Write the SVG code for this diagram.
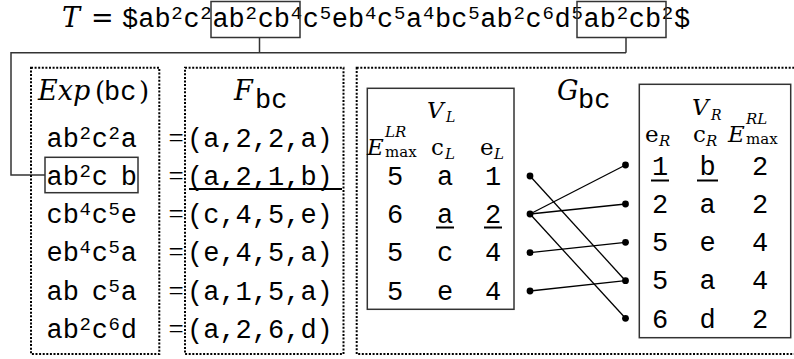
<svg xmlns="http://www.w3.org/2000/svg" width="794" height="359" viewBox="0 0 794 359">
<style>
.m{font-family:"Liberation Mono",monospace;font-size:27px;fill:#000}
.s{font-size:19px}
.mi{font-family:"DejaVu Serif",serif;font-style:italic;fill:#000}
.rm{font-family:"DejaVu Serif",serif;fill:#000}
.eq{font-family:"Liberation Serif",serif;font-size:27px;fill:#000}
.dot{fill:none;stroke:#000;stroke-width:2;stroke-dasharray:2 1.6}
.box{fill:none;stroke:#333;stroke-width:1.5}
.conn{fill:none;stroke:#333;stroke-width:1.5}
.edge{stroke:#000;stroke-width:1.3}
.ul{stroke:#000;stroke-width:2}
.v{font-family:"Liberation Mono",monospace;font-size:27px;fill:#000;text-anchor:middle}
</style>
<defs><circle id="d" r="3.4" fill="#000"/></defs>

<g id="title">
<text class="mi" x="62" y="27" font-size="27">T</text>
<text class="rm" x="91" y="27" font-size="27">=</text>
<text class="m" x="122" y="27">$ab<tspan class="s" dx="0.7" dy="-8">2</tspan><tspan dx="0.7" dy="8">c</tspan><tspan class="s" dx="0.7" dy="-8">2</tspan><tspan dx="0.7" dy="8">ab</tspan><tspan class="s" dx="0.7" dy="-8">2</tspan><tspan dx="0.7" dy="8">cb</tspan><tspan class="s" dx="0.7" dy="-8">4</tspan><tspan dx="0.7" dy="8">c</tspan><tspan class="s" dx="0.7" dy="-8">5</tspan><tspan dx="0.7" dy="8">eb</tspan><tspan class="s" dx="0.7" dy="-8">4</tspan><tspan dx="0.7" dy="8">c</tspan><tspan class="s" dx="0.7" dy="-8">5</tspan><tspan dx="0.7" dy="8">a</tspan><tspan class="s" dx="0.7" dy="-8">4</tspan><tspan dx="0.7" dy="8">bc</tspan><tspan class="s" dx="0.7" dy="-8">5</tspan><tspan dx="0.7" dy="8">ab</tspan><tspan class="s" dx="0.7" dy="-8">2</tspan><tspan dx="0.7" dy="8">c</tspan><tspan class="s" dx="0.7" dy="-8">6</tspan><tspan dx="0.7" dy="8">d</tspan><tspan class="s" dx="0.7" dy="-8">5</tspan><tspan dx="0.7" dy="8">ab</tspan><tspan class="s" dx="0.7" dy="-8">2</tspan><tspan dx="0.7" dy="8">cb</tspan><tspan class="s" dx="0.7" dy="-8">2</tspan><tspan dx="0.7" dy="8">$</tspan></text>
<rect class="box" x="211" y="1.5" width="89" height="36"/>
<rect class="box" x="577" y="1.5" width="89" height="36"/>
</g>

<g id="connectors-title">
<polyline class="conn" points="259.5,37.5 259.5,52.7"/>
<polyline class="conn" points="626,37.5 626,52.7"/>
<polyline class="conn" points="626,52.7 11,52.7 11,175 45,175"/>
</g>

<g id="exp">
<rect class="dot" x="31" y="67.7" width="128.3" height="286.3"/>
<text class="mi" x="38" y="100" font-size="27">Exp</text>
<text class="rm" x="95" y="100" font-size="26">(</text>
<text class="m" x="104" y="100">bc</text>
<text class="rm" x="139" y="100" font-size="26">)</text>
<text class="m" x="46.5" y="146.7">ab<tspan class="s" dx="0.7" dy="-8">2</tspan><tspan dx="0.7" dy="8">c</tspan><tspan class="s" dx="0.7" dy="-8">2</tspan><tspan dx="0.7" dy="8">a</tspan></text>
<rect class="box" x="45" y="157.3" width="93" height="35.4"/>
<text class="m" x="46.5" y="184.5">ab<tspan class="s" dx="0.7" dy="-8">2</tspan><tspan dx="0.7" dy="8">c</tspan><tspan dx="12.8">b</tspan></text>
<text class="m" x="46.5" y="223">cb<tspan class="s" dx="0.7" dy="-8">4</tspan><tspan dx="0.7" dy="8">c</tspan><tspan class="s" dx="0.7" dy="-8">5</tspan><tspan dx="0.7" dy="8">e</tspan></text>
<text class="m" x="46.5" y="261.3">eb<tspan class="s" dx="0.7" dy="-8">4</tspan><tspan dx="0.7" dy="8">c</tspan><tspan class="s" dx="0.7" dy="-8">5</tspan><tspan dx="0.7" dy="8">a</tspan></text>
<text class="m" x="46.5" y="299.5">ab<tspan dx="12.8">c</tspan><tspan class="s" dx="0.7" dy="-8">5</tspan><tspan dx="0.7" dy="8">a</tspan></text>
<text class="m" x="46.5" y="337.7">ab<tspan class="s" dx="0.7" dy="-8">2</tspan><tspan dx="0.7" dy="8">c</tspan><tspan class="s" dx="0.7" dy="-8">6</tspan><tspan dx="0.7" dy="8">d</tspan></text>
</g>

<g id="equals">
<text class="eq" x="176" y="146.7" text-anchor="middle">=</text>
<text class="eq" x="176" y="184.5" text-anchor="middle">=</text>
<text class="eq" x="176" y="223" text-anchor="middle">=</text>
<text class="eq" x="176" y="261.3" text-anchor="middle">=</text>
<text class="eq" x="176" y="299.5" text-anchor="middle">=</text>
<text class="eq" x="176" y="337.7" text-anchor="middle">=</text>
</g>

<g id="F">
<rect class="dot" x="185" y="67.7" width="158.5" height="286.3"/>
<text class="mi" x="234" y="100" font-size="27">F</text>
<text class="m" x="255" y="107.5" font-size="16">bc</text>
<text class="m" x="187" y="146.7">(a,2,2,a)</text>
<text class="m" x="187" y="184.5">(a,2,1,b)</text>
<line class="ul" x1="189" y1="189" x2="342" y2="189"/>
<text class="m" x="187" y="223">(c,4,5,e)</text>
<text class="m" x="187" y="261.3">(e,4,5,a)</text>
<text class="m" x="187" y="299.5">(a,1,5,a)</text>
<text class="m" x="187" y="337.7">(a,2,6,d)</text>
</g>

<g id="G">
<rect class="dot" x="356.7" y="67.7" width="440" height="286.3"/>
<text class="mi" x="557" y="100" font-size="27">G</text>
<text class="m" x="578" y="107.5" font-size="16">bc</text>
</g>

<g id="VL">
<rect class="box" x="367.3" y="88.3" width="146.7" height="221"/>
<text class="mi" x="427" y="117.5" font-size="23">V</text>
<text class="mi" x="446" y="122" font-size="14">L</text>
<text class="mi" x="367" y="155" font-size="23">E</text>
<text class="mi" x="385" y="137" font-size="15">LR</text>
<text class="rm" x="385" y="157" font-size="15">max</text>
<text class="rm" x="431" y="155" font-size="23">c</text>
<text class="mi" x="445" y="159" font-size="15">L</text>
<text class="rm" x="480" y="155" font-size="23">e</text>
<text class="mi" x="494" y="159" font-size="15">L</text>
<text class="v" x="395" y="184.5">5</text><text class="v" x="445" y="184.5">a</text><text class="v" x="493" y="184.5">1</text>
<text class="v" x="395" y="222.8">6</text><text class="v" x="445" y="222.8">a</text><text class="v" x="493" y="222.8">2</text>
<line class="ul" x1="436" y1="227.5" x2="454" y2="227.5"/>
<line class="ul" x1="484" y1="227.5" x2="502" y2="227.5"/>
<text class="v" x="395" y="261">5</text><text class="v" x="445" y="261">c</text><text class="v" x="493" y="261">4</text>
<text class="v" x="395" y="299.5">5</text><text class="v" x="445" y="299.5">e</text><text class="v" x="493" y="299.5">4</text>
</g>

<g id="VR">
<rect class="box" x="639.3" y="84.3" width="151.4" height="253.4"/>
<text class="mi" x="692" y="115" font-size="23">V</text>
<text class="mi" x="711" y="119.5" font-size="14">R</text>
<text class="rm" x="645" y="142" font-size="23">e</text>
<text class="mi" x="659" y="146" font-size="15">R</text>
<text class="rm" x="693" y="142" font-size="23">c</text>
<text class="mi" x="706" y="146" font-size="15">R</text>
<text class="mi" x="728" y="142" font-size="23">E</text>
<text class="mi" x="746" y="124" font-size="15">RL</text>
<text class="rm" x="746" y="144" font-size="15">max</text>
<text class="v" x="660" y="175">1</text><text class="v" x="707.5" y="175">b</text><text class="v" x="760" y="175">2</text>
<line class="ul" x1="651" y1="180.5" x2="669" y2="180.5"/>
<line class="ul" x1="697" y1="180.5" x2="718" y2="180.5"/>
<text class="v" x="660" y="213">2</text><text class="v" x="707.5" y="213">a</text><text class="v" x="760" y="213">2</text>
<text class="v" x="660" y="251">5</text><text class="v" x="707.5" y="251">e</text><text class="v" x="760" y="251">4</text>
<text class="v" x="660" y="289.3">5</text><text class="v" x="707.5" y="289.3">a</text><text class="v" x="760" y="289.3">4</text>
<text class="v" x="660" y="327.6">6</text><text class="v" x="707.5" y="327.6">d</text><text class="v" x="760" y="327.6">2</text>
</g>

<g id="edges">
<line class="edge" x1="530" y1="176" x2="625.5" y2="280.7"/>
<line class="edge" x1="530" y1="214" x2="625.5" y2="165"/>
<line class="edge" x1="530" y1="214" x2="625.5" y2="204"/>
<line class="edge" x1="530" y1="214" x2="625.5" y2="318.3"/>
<line class="edge" x1="530" y1="252.7" x2="625.5" y2="242.3"/>
<line class="edge" x1="530" y1="291" x2="625.5" y2="280.7"/>
<use href="#d" x="530" y="176"/><use href="#d" x="530" y="214"/><use href="#d" x="530" y="252.7"/><use href="#d" x="530" y="291"/>
<use href="#d" x="625.5" y="165"/><use href="#d" x="625.5" y="204"/><use href="#d" x="625.5" y="242.3"/><use href="#d" x="625.5" y="280.7"/><use href="#d" x="625.5" y="318.3"/>
</g>
</svg>
